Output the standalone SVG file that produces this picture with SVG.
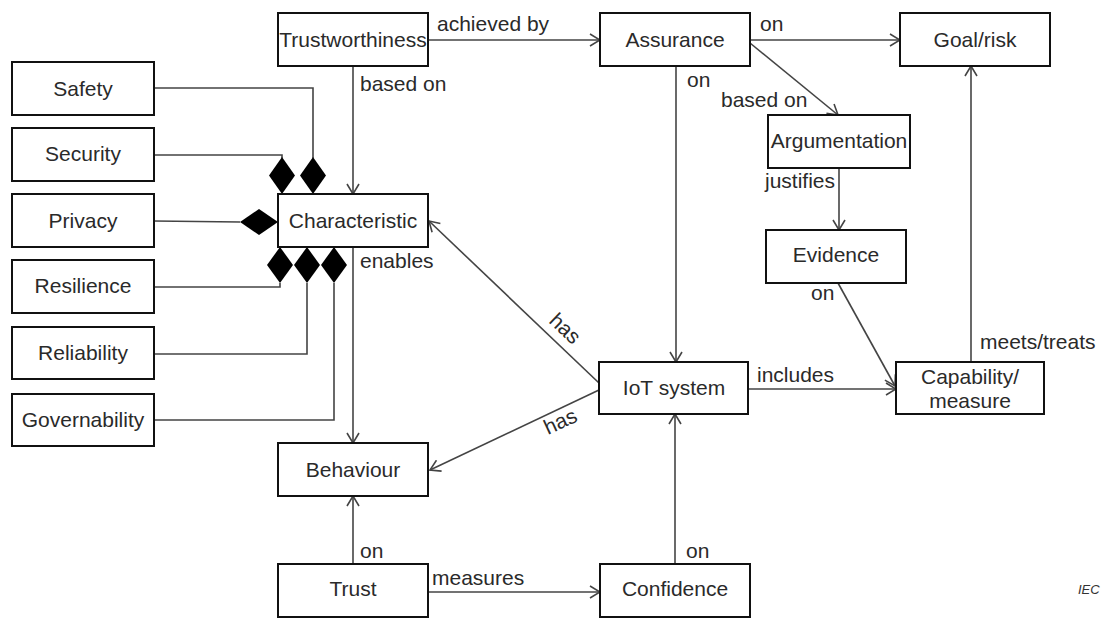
<svg xmlns="http://www.w3.org/2000/svg" width="1109" height="619" viewBox="0 0 1109 619">
  <style>
    .box { fill: #fff; stroke: #111; stroke-width: 2; }
    .t { font-family: "Liberation Sans", Arial, sans-serif; font-size: 21px; fill: #2a2a2a; }
    .c { text-anchor: middle; }
    .ln { fill: none; stroke: #444; stroke-width: 1.6; }
    .arr { marker-end: url(#open); }
    .dia { fill: #000; }
    .iec { font-family: "Liberation Sans", Arial, sans-serif; font-size: 13px; font-style: italic; fill: #333; }
  </style>
  <defs>
    <marker id="open" viewBox="0 0 12 14" refX="11" refY="7" markerWidth="12" markerHeight="14" markerUnits="userSpaceOnUse" orient="auto">
      <path d="M1,1 L11,7 L1,13" fill="none" stroke="#444" stroke-width="1.6"/>
    </marker>
  </defs>
  <rect width="1109" height="619" fill="#fff"/>

  <!-- connectors -->
  <g id="connectors">
    <!-- aggregation lines from the characteristic kinds -->
    <polyline class="ln" points="154,88 313,88 313,158"/>
    <polyline class="ln" points="154,155 282,155 282,158"/>
    <line class="ln" x1="154" y1="221" x2="240" y2="222"/>
    <polyline class="ln" points="154,287 280,287 280,283"/>
    <polyline class="ln" points="154,354 307,354 307,283"/>
    <polyline class="ln" points="154,420 334,420 334,283"/>
    <path class="dia" d="M313,157 L326,175.5 L313,194 L300,175.5 Z"/>
    <path class="dia" d="M282,157 L295,175.5 L282,194 L269,175.5 Z"/>
    <path class="dia" d="M240,222 L259,209 L278,222 L259,235 Z"/>
    <path class="dia" d="M280,247 L293,265 L280,283 L267,265 Z"/>
    <path class="dia" d="M307,247 L320,265 L307,283 L294,265 Z"/>
    <path class="dia" d="M334,247 L347,265 L334,283 L321,265 Z"/>

    <line class="ln arr" x1="428" y1="40" x2="600" y2="40"/>
    <line class="ln arr" x1="750" y1="40" x2="900" y2="40"/>
    <line class="ln arr" x1="750" y1="43" x2="838" y2="115"/>
    <line class="ln arr" x1="676" y1="66" x2="676" y2="362"/>
    <line class="ln arr" x1="839" y1="168" x2="839" y2="230"/>
    <line class="ln arr" x1="838" y1="283" x2="895" y2="386"/>
    <line class="ln arr" x1="971" y1="362" x2="971" y2="66"/>
    <line class="ln arr" x1="748" y1="389" x2="896" y2="389"/>
    <line class="ln arr" x1="599" y1="383" x2="429" y2="221"/>
    <line class="ln arr" x1="599" y1="390" x2="430" y2="470"/>
    <line class="ln arr" x1="353" y1="66" x2="353" y2="194"/>
    <line class="ln arr" x1="353" y1="247" x2="353" y2="443"/>
    <line class="ln arr" x1="353" y1="564" x2="353" y2="496"/>
    <line class="ln arr" x1="428" y1="592" x2="600" y2="592"/>
    <line class="ln arr" x1="675" y1="564" x2="675" y2="414"/>

    <!-- connector labels -->
    <text class="t" x="437" y="31">achieved by</text>
    <text class="t" x="760" y="31">on</text>
    <text class="t" x="721" y="107">based on</text>
    <text class="t" x="687" y="87">on</text>
    <text class="t" x="765" y="188">justifies</text>
    <text class="t" x="811" y="300">on</text>
    <text class="t" x="980" y="349">meets/treats</text>
    <text class="t" x="757" y="382">includes</text>
    <text class="t" x="360" y="91">based on</text>
    <text class="t" x="360" y="268">enables</text>
    <text class="t" x="360" y="558">on</text>
    <text class="t" x="432" y="585">measures</text>
    <text class="t" x="686" y="558">on</text>
    <text class="t" transform="translate(548,322) rotate(43.6)">has</text>
    <text class="t" transform="translate(548,435) rotate(-25)">has</text>
  </g>

  <!-- nodes -->
  <g id="trustworthiness"><rect class="box" x="278" y="13" width="150" height="53"/><text class="t c" x="353" y="47">Trustworthiness</text></g>
  <g id="assurance"><rect class="box" x="600" y="13" width="150" height="53"/><text class="t c" x="675" y="47">Assurance</text></g>
  <g id="goal-risk"><rect class="box" x="900" y="13" width="150" height="53"/><text class="t c" x="975" y="47">Goal/risk</text></g>
  <g id="argumentation"><rect class="box" x="768" y="115" width="142" height="53"/><text class="t c" x="839" y="148">Argumentation</text></g>
  <g id="evidence"><rect class="box" x="766" y="230" width="140" height="53"/><text class="t c" x="836" y="262">Evidence</text></g>
  <g id="characteristic"><rect class="box" x="278" y="194" width="150" height="53"/><text class="t c" x="353" y="228">Characteristic</text></g>
  <g id="iot-system"><rect class="box" x="599" y="362" width="149" height="52"/><text class="t c" x="674" y="395">IoT system</text></g>
  <g id="capability"><rect class="box" x="896" y="362" width="148" height="52"/><text class="t c" x="970" y="384">Capability/</text><text class="t c" x="970" y="408">measure</text></g>
  <g id="behaviour"><rect class="box" x="278" y="443" width="150" height="53"/><text class="t c" x="353" y="477">Behaviour</text></g>
  <g id="trust"><rect class="box" x="278" y="564" width="150" height="53"/><text class="t c" x="353" y="596">Trust</text></g>
  <g id="confidence"><rect class="box" x="600" y="564" width="150" height="53"/><text class="t c" x="675" y="596">Confidence</text></g>

  <g id="safety"><rect class="box" x="12" y="62" width="142" height="53"/><text class="t c" x="83" y="96">Safety</text></g>
  <g id="security"><rect class="box" x="12" y="128" width="142" height="53"/><text class="t c" x="83" y="161">Security</text></g>
  <g id="privacy"><rect class="box" x="12" y="194" width="142" height="53"/><text class="t c" x="83" y="228">Privacy</text></g>
  <g id="resilience"><rect class="box" x="12" y="260" width="142" height="53"/><text class="t c" x="83" y="293">Resilience</text></g>
  <g id="reliability"><rect class="box" x="12" y="327" width="142" height="52"/><text class="t c" x="83" y="360">Reliability</text></g>
  <g id="governability"><rect class="box" x="12" y="394" width="142" height="52"/><text class="t c" x="83" y="427">Governability</text></g>

  <text class="iec" x="1078" y="594">IEC</text>
</svg>
